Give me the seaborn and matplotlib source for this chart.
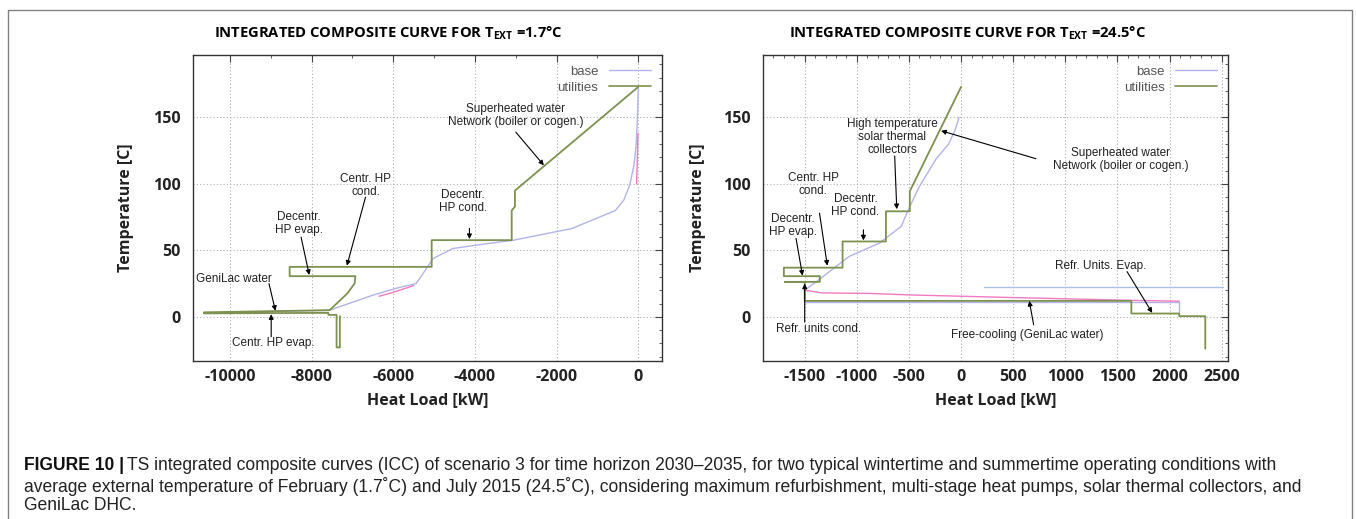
import matplotlib
matplotlib.use("Agg")
import matplotlib.pyplot as plt
import seaborn as sns
from matplotlib.lines import Line2D
from matplotlib.ticker import MultipleLocator

# ---------------- data ----------------
# Left panel: T_ext = 1.7 C
L_util_x = [0, -3020, -3020, -3100, -3100, -5060, -5060, -8540, -8540, -6930, -6950, -7130,
            -7560, -10640, -10640, -7590, -7590, -7390, -7390, -7310, -7310]
L_util_y = [173, 95, 83, 80, 57.7, 57.7, 37.6, 37.6, 30.6, 30.6, 25, 17.5,
            5, 3.4, 2.6, 3, 1.5, 1.5, -23, -23, 0.5]
L_base_x = [0, -20, -50, -100, -200, -350, -560, -1620, -3050, -3950, -4540, -5020,
            -5440, -5870, -6500, -7560, -10640]
L_base_y = [172, 150, 130, 115, 100, 88, 80, 66.5, 57.7, 54, 51.4, 44,
            25, 22, 16.3, 5, 3]
L_pink1_x = [-6350, -6050, -5750, -5500]
L_pink1_y = [15.5, 18, 21, 23.5]
L_pink2_x = [-40, -20, -8]
L_pink2_y = [100, 120, 138]

# Right panel: T_ext = 24.5 C
R_util_x = [0, -492, -492, -721, -721, -1137, -1137, -1700, -1700, -1355, -1355, -1690,
            -1500, -1500, 1633, 1633, 2092, 2092, 2342, 2342]
R_util_y = [173, 94.5, 79.4, 79.4, 56.7, 56.7, 37, 37, 30.6, 30.6, 26.3, 26.3,
            26.3, 12, 12, 2.5, 2.5, 0.5, 0.5, -24]
R_base_x = [-20, -60, -120, -242, -400, -492, -575, -783, -1075, -1367, -1500]
R_base_y = [150, 140, 130, 118.5, 98, 83, 68, 55.5, 45.4, 27.7, 20]
R_base2_x = [-1500, 2092, 2092]
R_base2_y = [11, 11, 3]
R_base3_x = [217, 2508]
R_base3_y = [22.2, 22.2]
R_pink_x = [-1500, -1330, -870, -500, 500, 1200, 1700, 2092]
R_pink_y = [20, 18, 17.6, 16.5, 14.5, 13.2, 12.3, 11.8]

L_xticks = [-10000, -8000, -6000, -4000, -2000, 0]
R_xticks = [-1500, -1000, -500, 0, 500, 1000, 1500, 2000, 2500]
yticks = [0, 50, 100, 150]

L_notes = [
    ("Superheated water\nNetwork (boiler or cogen.)", (-3001, 151.7), (-3000, 139), (-2312, 114)),
    ("Centr. HP\ncond.", (-6681, 99), (-6681, 90), (-7137, 38.5)),
    ("Decentr.\nHP evap.", (-8303, 70), (-8260, 60), (-8059, 31.5)),
    ("Decentr.\nHP cond.", (-4295, 86.5), (-4135, 66.5), (-4135, 58.5)),
    ("GeniLac water", (-9894, 28.8), (-9046, 25), (-8887, 4.5)),
    ("Centr. HP evap.", (-8940, -20), (-8992, -15), (-8992, 2)),
]
R_notes = [
    ("High temperature\nsolar thermal\ncollectors", (-658, 135.6), (-637, 121), (-617, 81)),
    ("Superheated water\nNetwork (boiler or cogen.)", (1529, 118.5), (717, 119), (-192, 140)),
    ("Centr. HP\ncond.", (-1417, 99.8), (-1358, 78), (-1283, 38.5)),
    ("Decentr.\nHP cond.", (-1012, 83.7), (-937, 65.5), (-937, 57.5)),
    ("Decentr.\nHP evap.", (-1617, 68.8), (-1583, 59), (-1521, 31)),
    ("Refr. units cond.", (-1367, -8.8), (-1500, -4), (-1500, 25)),
    ("Free-cooling (GeniLac water)", (633, -13.9), (696, -6), (654, 12)),
    ("Refr. Units. Evap.", (1342, 38.6), (1592, 34), (1833, 3)),
]

# ---------------- style ----------------
sns.set_theme(style="white")
plt.rcParams['font.family'] = ['Open Sans', 'DejaVu Sans']
plt.rcParams['axes.unicode_minus'] = False
plt.rcParams['mathtext.fontset'] = 'custom'
plt.rcParams['mathtext.bf'] = 'Open Sans:bold'
plt.rcParams['mathtext.rm'] = 'Open Sans'

C_UTIL = "#7d9150"
C_BASE = "#b3b3ea"
C_PINK = "#f07ac0"
C_TXT = "#222222"
NOTE_FONT = ['Liberation Sans', 'DejaVu Sans']

W, H = 1356, 519
fig = plt.figure(figsize=(W / 100, H / 100), dpi=100)
fig.patch.set_facecolor("white")
axL = fig.add_axes([193.3 / W, 1 - 360.7 / H, 468.4 / W, 305.7 / H])
axR = fig.add_axes([763.0 / W, 1 - 360.7 / H, 465.0 / W, 305.7 / H])


def line(ax, xs, ys, color, lw):
    sns.lineplot(x=xs, y=ys, sort=False, estimator=None, color=color, lw=lw, ax=ax)


def style_axes(ax, xlim, xticks, xminor, title_x, title_txt):
    ax.set_xlim(*xlim)
    ax.set_ylim(-33, 197)
    ax.set_xticks(xticks)
    ax.set_yticks(yticks)
    ax.xaxis.set_minor_locator(MultipleLocator(xminor))
    ax.yaxis.set_minor_locator(MultipleLocator(10))
    ax.grid(True, which='major', ls=(0, (1, 2)), color='#b0b0b0', lw=0.8)
    for s in ax.spines.values():
        s.set_color('#333333')
        s.set_linewidth(1.0)
    ax.tick_params(which='both', direction='in', top=True, right=True, colors='#444444',
                   labelcolor=C_TXT)
    ax.tick_params(which='major', length=5, width=0.8)
    ax.tick_params(which='minor', length=2.5, width=0.6)
    ax.tick_params(axis='x', which='major', pad=6, labelsize=11.5)
    ax.tick_params(axis='y', which='major', pad=9, labelsize=11.5)
    for lab in ax.get_xticklabels() + ax.get_yticklabels():
        lab.set_fontweight('bold')
    ax.set_xlabel("Heat Load [kW]", fontsize=11.5, fontweight='bold', color=C_TXT)
    ax.set_ylabel("Temperature [C]", fontsize=11.5, fontweight='bold', color=C_TXT)
    ax.xaxis.label.set_va('center')
    ax.yaxis.label.set_va('center')
    ax.legend(handles=[Line2D([], [], color=C_BASE, lw=1.0), Line2D([], [], color=C_UTIL, lw=1.2)],
              labels=['base', 'utilities'], loc='upper right', frameon=False, markerfirst=False,
              handlelength=3.2, labelspacing=0.3, borderaxespad=0.4, handletextpad=0.8,
              prop={'family': NOTE_FONT, 'size': 9.5}, labelcolor='#555555')
    fig.text(title_x / W, 1 - 33 / H, title_txt, ha='center', va='center',
             fontsize=10.6, fontweight='bold', color='black')


def notes(ax, items):
    for txt, pos, tail, tip in items:
        ax.text(pos[0], pos[1], txt, ha='center', va='center', fontsize=8.5,
                family=NOTE_FONT, color='#222222', linespacing=1.12)
        ax.annotate('', xy=tip, xytext=tail,
                    arrowprops=dict(arrowstyle='-|>', color='black', lw=0.8,
                                    mutation_scale=7, shrinkA=0, shrinkB=0))


# left panel
line(axL, L_base_x, L_base_y, C_BASE, 1.0)
line(axL, L_pink1_x, L_pink1_y, C_PINK, 1.0)
line(axL, L_pink2_x, L_pink2_y, C_PINK, 1.0)
line(axL, L_util_x, L_util_y, C_UTIL, 1.3)
style_axes(axL, (-10900, 575), L_xticks, 1000, 388,
           r"INTEGRATED COMPOSITE CURVE FOR T$_{\mathbf{EXT}}$ =1.7°C")
notes(axL, L_notes)
axL.xaxis.set_label_coords(0.5, (360.7 - 400) / 305.7)
axL.yaxis.set_label_coords((126 - 193.3) / 468.4, 0.5)

# right panel
line(axR, R_base_x, R_base_y, C_BASE, 1.0)
line(axR, R_base2_x, R_base2_y, C_BASE, 1.0)
line(axR, R_base3_x, R_base3_y, "#a9c2ea", 1.0)
line(axR, R_pink_x, R_pink_y, C_PINK, 1.0)
line(axR, R_util_x, R_util_y, C_UTIL, 1.3)
style_axes(axR, (-1900, 2560), R_xticks, 100, 967,
           r"INTEGRATED COMPOSITE CURVE FOR T$_{\mathbf{EXT}}$ =24.5°C")
notes(axR, R_notes)
axR.xaxis.set_label_coords(0.5, (360.7 - 400) / 305.7)
axR.yaxis.set_label_coords((697.7 - 763) / 465.0, 0.5)

# frame around the figure
fig.add_artist(Line2D([8 / W, 8 / W, 1351.7 / W, 1351.7 / W], [0, 1 - 9.5 / H, 1 - 9.5 / H, 0],
                      transform=fig.transFigure, color='#808080', lw=1.0))

# caption
CAP_FONT = ['Liberation Sans', 'DejaVu Sans']
cap_size = 12.65
t0 = fig.text(24 / W, 1 - 465.7 / H, "FIGURE 10 |", fontsize=cap_size, fontweight='bold',
              family=CAP_FONT, va='center', ha='left', color='#111111')
fig.canvas.draw()
bb = t0.get_window_extent(renderer=fig.canvas.get_renderer())
fig.text((bb.x1 + 3) / W, 1 - 465.7 / H,
         "TS integrated composite curves (ICC) of scenario 3 for time horizon 2030–2035, for two typical "
         "wintertime and summertime operating conditions with",
         fontsize=cap_size, family=CAP_FONT, va='center', ha='left', color='#222222')
fig.text(24 / W, 1 - 486 / H,
         "average external temperature of February (1.7˚C) and July 2015 (24.5˚C), considering maximum "
         "refurbishment, multi-stage heat pumps, solar thermal collectors, and",
         fontsize=cap_size, family=CAP_FONT, va='center', ha='left', color='#222222')
fig.text(24 / W, 1 - 505 / H, "GeniLac DHC.",
         fontsize=cap_size, family=CAP_FONT, va='center', ha='left', color='#222222')

fig.savefig("out.png", dpi=100, facecolor='white')
